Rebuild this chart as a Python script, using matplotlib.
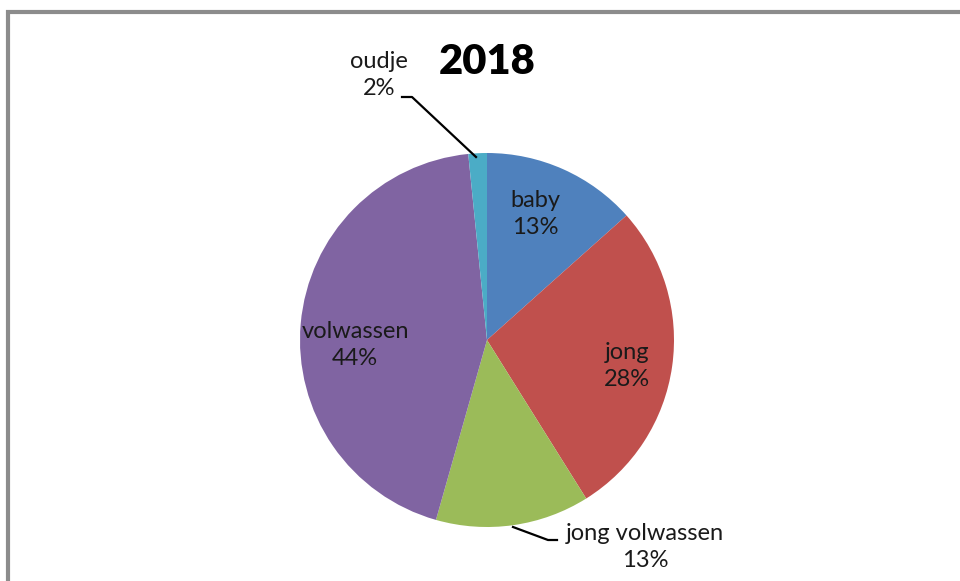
import numpy as np
import matplotlib.pyplot as plt

categories = ["baby", "jong", "jong volwassen", "volwassen", "oudje"]
shares = [13.4, 27.7, 13.3, 44.0, 1.6]
colors = ["#4F81BD", "#C0504D", "#9BBB59", "#8064A2", "#4BACC6"]
title = "2018"

W, H = 960, 581
fig = plt.figure(figsize=(W / 100, H / 100), dpi=100)
ax = fig.add_axes([0, 0, 1, 1])
ax.set_xlim(0, W)
ax.set_ylim(0, H)
ax.set_aspect("equal")
ax.axis("off")

cx, cy, r = 487, H - 340, 187
ax.pie(shares, colors=colors, startangle=90, counterclock=False,
       center=(cx, cy), radius=r, wedgeprops=dict(linewidth=0))
ax.set_xlim(0, W)
ax.set_ylim(0, H)

# frame of the chart area (runs off the right and bottom edge)
ax.plot([7.5, 7.5, W + 5], [-5, H - 11.5, H - 11.5], color="#8c8c8c", lw=3,
        solid_joinstyle="miter", clip_on=False)

font = "Lato"
pct = [int(round(v)) for v in shares]
labels = [f"{c}\n{p}%" for c, p in zip(categories, pct)]
label_pos = [(535, 214), (627, 366), (645, 547), (355, 345), (379, 75)]
for lab, (x, y) in zip(labels, label_pos):
    ax.text(x, H - y, lab, ha="center", va="center", fontsize=17,
            family=font, color="#1a1a1a", linespacing=1.4)

# leader lines
ax.plot([402, 412, 476], [H - 97, H - 97, H - 157], color="black", lw=1.6)
ax.plot([513, 548, 557], [H - 527, H - 540, H - 540], color="black", lw=1.6)

ax.text(cx, H - 62, title, ha="center", va="center", fontsize=30,
        fontweight="heavy", family=font, color="black")

fig.savefig("out.png", dpi=100)
